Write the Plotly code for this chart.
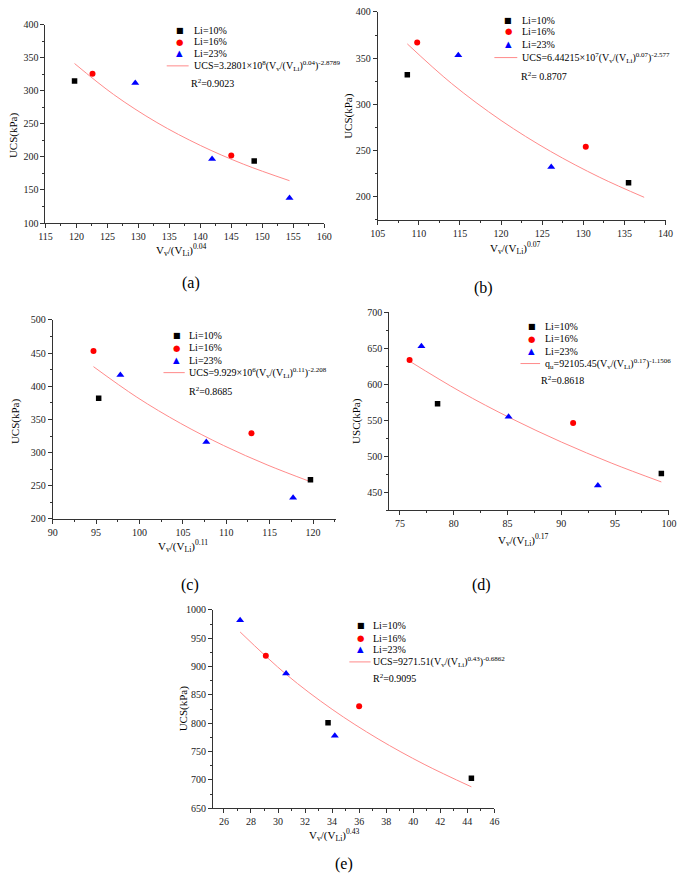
import plotly.graph_objects as go

W, H = 685, 879

# ---------------- data ----------------
# (a)
a_li10_x = [119.7, 148.7]
a_li10_y = [315, 194]
a_li16_x = [122.6, 145.0]
a_li16_y = [326, 202]
a_li23_x = [129.5, 141.9, 154.4]
a_li23_y = [312, 197, 138]
a_fit_x = [119.7, 126, 133, 140, 147, 154.4]
a_fit_y = [341.3, 294.5, 252.0, 217.4, 188.9, 164.0]

# (b)
b_li10_x = [108.6, 135.5]
b_li10_y = [332, 215]
b_li16_x = [109.8, 130.3]
b_li16_y = [367, 254]
b_li23_x = [114.8, 126.1]
b_li23_y = [353, 232]
b_fit_x = [108.6, 114, 120, 126, 132, 137.4]
b_fit_y = [365.4, 322.4, 282.5, 249.1, 220.9, 199.3]

# (c)
c_li10_x = [95.3, 119.7]
c_li10_y = [382, 259]
c_li16_x = [94.7, 112.9]
c_li16_y = [453, 329]
c_li23_x = [97.8, 107.7, 117.7]
c_li23_y = [417, 316, 232]
c_fit_x = [94.7, 99.7, 104.7, 109.7, 114.7, 119.7]
c_fit_y = [429.6, 383.5, 344.3, 310.6, 281.5, 256.1]

# (d)
d_li10_x = [78.5, 99.3]
d_li10_y = [573, 476]
d_li16_x = [75.9, 91.1]
d_li16_y = [634, 546]
d_li23_x = [77.0, 85.1, 93.4]
d_li23_y = [653, 555, 459]
d_fit_x = [75.9, 80.6, 85.3, 90, 94.7, 99.3]
d_fit_y = [632.2, 590.0, 552.8, 519.7, 490.1, 464.1]

# (e)
e_li10_x = [33.7, 44.3]
e_li10_y = [801, 703]
e_li16_x = [29.1, 36.0]
e_li16_y = [919, 830]
e_li23_x = [27.2, 30.6, 34.2]
e_li23_y = [982, 888, 778]
e_fit_x = [27.2, 30.6, 34, 37.4, 40.8, 44.3]
e_fit_y = [961.1, 886.4, 824.6, 772.4, 727.6, 687.7]

series_names = ["Li=10%", "Li=16%", "Li=23%"]
fit_labels = [
    "UCS=3.2801×10<sup>8</sup>(V<sub>v</sub>/(V<sub>Li</sub>)<sup>0.04</sup>)<sup>-2.8789</sup>",
    "UCS=6.44215×10<sup>7</sup>(V<sub>v</sub>/(V<sub>Li</sub>)<sup>0.07</sup>)<sup>-2.577</sup>",
    "UCS=9.929×10<sup>6</sup>(V<sub>v</sub>/(V<sub>Li</sub>)<sup>0.11</sup>)<sup>-2.208</sup>",
    "q<sub>u</sub>=92105.45(V<sub>v</sub>/(V<sub>Li</sub>)<sup>0.17</sup>)<sup>-1.1506</sup>",
    "UCS=9271.51(V<sub>v</sub>/(V<sub>Li</sub>)<sup>0.43</sup>)<sup>-0.6862</sup>",
]
r2_labels = ["R<sup>2</sup>=0.9023", "R<sup>2</sup>= 0.8707", "R<sup>2</sup>=0.8685",
             "R<sup>2</sup>=0.8618", "R<sup>2</sup>=0.9095"]
x_titles = ["V<sub>v</sub>/(V<sub>Li</sub>)<sup>0.04</sup>",
            "V<sub>v</sub>/(V<sub>Li</sub>)<sup>0.07</sup>",
            "V<sub>v</sub>/(V<sub>Li</sub>)<sup>0.11</sup>",
            "V<sub>v</sub>/(V<sub>Li</sub>)<sup>0.17</sup>",
            "V<sub>v</sub>/(V<sub>Li</sub>)<sup>0.43</sup>"]
y_titles = ["UCS(kPa)", "UCS(kPa)", "UCS(kPa)", "USC(kPa)", "UCS(kPa)"]
panel_tags = ["(a)", "(b)", "(c)", "(d)", "(e)"]

data = [
    (a_li10_x, a_li10_y, a_li16_x, a_li16_y, a_li23_x, a_li23_y, a_fit_x, a_fit_y),
    (b_li10_x, b_li10_y, b_li16_x, b_li16_y, b_li23_x, b_li23_y, b_fit_x, b_fit_y),
    (c_li10_x, c_li10_y, c_li16_x, c_li16_y, c_li23_x, c_li23_y, c_fit_x, c_fit_y),
    (d_li10_x, d_li10_y, d_li16_x, d_li16_y, d_li23_x, d_li23_y, d_fit_x, d_fit_y),
    (e_li10_x, e_li10_y, e_li16_x, e_li16_y, e_li23_x, e_li23_y, e_fit_x, e_fit_y),
]

# ---------------- layout (pixel geometry) ----------------
layout_cfg = [
    dict(box=(39.3, 324.3, 19, 220), xr=(115, 160), yr=(100, 400), xd=5, yd=50,
         xt=(178.5, 247), yt=(6, 131), tag=(188, 281),
         key_x=176.7, txt_x=190.7, rows=(25, 36, 47.7, 60.7), r2=(188, 77.7), line=(163.3, 185.7)),
    dict(box=(379, 673.3, 6, 216.7), xr=(105, 140), yr=(175, 400), xd=5, yd=50,
         xt=(520, 245), yt=(349, 111), tag=(486.7, 286),
         key_x=512.7, txt_x=526.7, rows=(14.3, 25.7, 39, 52.3), r2=(526, 71), line=(498.3, 521.7)),
    dict(box=(46.7, 336, 318.3, 520), xr=(90, 122.6), yr=(200, 500), xd=5, yd=50,
         xt=(180, 547), yt=(8, 421), tag=(186.7, 587),
         key_x=173.3, txt_x=185.7, rows=(334, 346.7, 359.3, 371.7), r2=(185.7, 390), line=(160, 181.7)),
    dict(box=(390.7, 676.7, 310.7, 511), xr=(74, 100), yr=(425, 700), xd=5, yd=50,
         xt=(528, 541), yt=(357.5, 421), tag=(485, 587),
         key_x=536.7, txt_x=550, rows=(325, 337.3, 350, 362.5), r2=(546, 379.3), line=(525, 545)),
    dict(box=(210.7, 498.3, 612.3, 813.3), xr=(25.2, 46), yr=(650, 1000), xd=2, yd=50,
         xt=(335, 840), yt=(180, 712), tag=(345, 870),
         key_x=361.7, txt_x=374.3, rows=(628.3, 641, 652.3, 665), r2=(374.3, 681.7), line=(350, 371.7)),
]

SERIF = "Liberation Serif, Times New Roman, Times, serif"
FIT_COLOR = "#ff8a8a"
AXIS_COLOR = "#333333"
COLORS = ["#000000", "#ff0000", "#0000ff"]
SYMBOLS = ["square", "circle", "triangle-up"]
SIZES = [5.5, 6, 7]
GLYPHS = ["■", "●", "▲"]
GLYPH_SIZES = [8, 8.5, 8.5]


def px(x):
    return x / W


def py(y):
    return 1 - y / H


fig = go.Figure()
annotations = []
shapes = []


def ann(x, y, text, size=10, xanchor="left", yanchor="middle", angle=0, color="black", family=SERIF):
    annotations.append(dict(x=px(x), y=py(y), xref="paper", yref="paper", text=text, showarrow=False,
                            xanchor=xanchor, yanchor=yanchor, textangle=angle, borderpad=0, borderwidth=0,
                            font=dict(family=family, size=size, color=color)))


for i, (d, cfg) in enumerate(zip(data, layout_cfg)):
    n = "" if i == 0 else str(i + 1)
    xa, ya = "x" + n, "y" + n
    l, r, t, b = cfg["box"]
    fig.add_trace(go.Scatter(x=d[6], y=d[7], mode="lines", line=dict(color=FIT_COLOR, width=1, shape="spline"),
                             xaxis=xa, yaxis=ya, showlegend=False, name="fit"))
    for k in range(3):
        fig.add_trace(go.Scatter(x=d[2 * k], y=d[2 * k + 1], mode="markers", name=series_names[k],
                                 marker=dict(symbol=SYMBOLS[k], size=SIZES[k], color=COLORS[k],
                                             line=dict(width=0)),
                                 xaxis=xa, yaxis=ya, showlegend=False))
    common = dict(showline=True, linecolor=AXIS_COLOR, linewidth=1, ticks="outside", ticklen=4,
                  tickwidth=1, tickcolor=AXIS_COLOR, showgrid=False, zeroline=False,
                  tickfont=dict(family=SERIF, size=10, color="#222222"))
    fig.update_layout(**{
        "xaxis" + n: dict(common, domain=[px(l), px(r)], range=list(cfg["xr"]), anchor=ya,
                          tick0=0, dtick=cfg["xd"],
                          minor=dict(ticks="outside", ticklen=2, tickcolor=AXIS_COLOR, dtick=cfg["xd"] / 2,
                                     tick0=0, showgrid=False)),
        "yaxis" + n: dict(common, domain=[py(b), py(t)], range=list(cfg["yr"]), anchor=xa,
                          tick0=0, dtick=cfg["yd"],
                          minor=dict(ticks="outside", ticklen=2, tickcolor=AXIS_COLOR, dtick=cfg["yd"] / 2,
                                     tick0=0, showgrid=False)),
    })
    ann(cfg["xt"][0], cfg["xt"][1], x_titles[i], size=11, xanchor="center")
    ann(cfg["yt"][0], cfg["yt"][1], y_titles[i], size=11, xanchor="center", angle=-90)
    ann(cfg["tag"][0], cfg["tag"][1], panel_tags[i], size=16, xanchor="center")
    for k in range(3):
        ann(cfg["key_x"], cfg["rows"][k], GLYPHS[k], size=GLYPH_SIZES[k], xanchor="center",
            color=COLORS[k], family="DejaVu Sans")
        ann(cfg["txt_x"], cfg["rows"][k], series_names[k], size=10)
    shapes.append(dict(type="line", xref="paper", yref="paper", x0=px(cfg["line"][0]), x1=px(cfg["line"][1]),
                       y0=py(cfg["rows"][3]), y1=py(cfg["rows"][3]), line=dict(color=FIT_COLOR, width=1)))
    ann(cfg["txt_x"], cfg["rows"][3], fit_labels[i], size=10)
    ann(cfg["r2"][0], cfg["r2"][1], r2_labels[i], size=10)

fig.update_layout(width=W, height=H, margin=dict(l=0, r=0, t=0, b=0),
                  paper_bgcolor="white", plot_bgcolor="white",
                  annotations=annotations, shapes=shapes, showlegend=False)

fig.write_html("out.html", config={"displayModeBar": False},
               post_script="document.body.style.margin='0px';document.body.style.padding='0px';")
